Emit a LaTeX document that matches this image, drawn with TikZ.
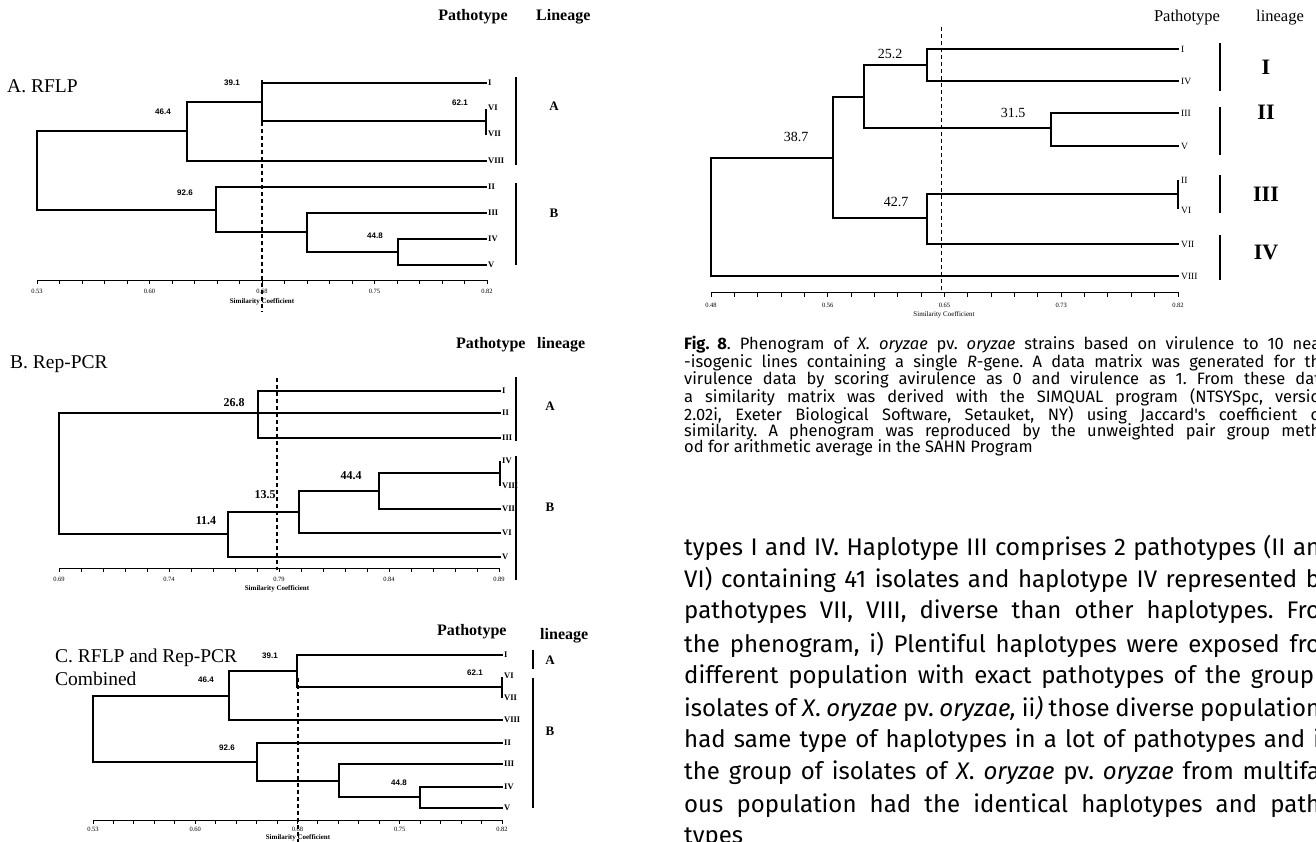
\documentclass[tikz,border=0pt]{standalone}
\usepackage{fontspec}
\setmainfont{Liberation Serif}
\newfontfamily\arialfont{Liberation Sans}
\newfontfamily\firafont{Fira Sans}
\newcommand{\fsz}[1]{\fontsize{#1}{#1}\selectfont}
\frenchspacing

\begin{document}
\begin{tikzpicture}[x=1pt, y=-1pt,
  tree/.style={line width=1.4pt, line cap=rect},
  cutline/.style={line width=1.2pt, dash pattern=on 4pt off 3pt},
  axisl/.style={line width=1pt},
  lbar/.style={line width=1.6pt},
  paneltitle/.style={anchor=west, inner sep=0pt, font={\fsz{19.5}}},
  headb/.style={inner sep=0pt, font={\bfseries\fsz{16}}},
  headr/.style={inner sep=0pt, font={\fsz{16.5}}},
  leafb/.style={anchor=west, inner sep=0pt, font={\bfseries\fsz{8.5}}},
  leafr/.style={anchor=west, inner sep=0pt, font={\fsz{9.5}}},
  valA/.style={inner sep=0pt, font={\arialfont\bfseries\fsz{8}}},
  valB/.style={inner sep=0pt, font={\bfseries\fsz{12}}},
  valR/.style={inner sep=0pt, font={\fsz{14}}},
  ticklab/.style={inner sep=0pt, font={\fsz{6.5}}},
  sclab/.style={inner sep=0pt, font={\bfseries\fsz{7}}},
  linb/.style={inner sep=0pt, font={\bfseries\fsz{13}}},
  linR/.style={inner sep=0pt, font={\bfseries\fsz{22}}},
  capline/.style={anchor=west, inner sep=0pt, font={\firafont\fsz{16.5}}},
  bodyline/.style={anchor=west, inner sep=0pt, font={\firafont\fsz{24}}}]

  \clip (0,0) rectangle (1316,842);
  \fill[white] (0,0) rectangle (1316,842);

  % A. RFLP
  \node[paneltitle] (tA) at (7,86) {A. RFLP};
  \node[headb] (hpA) at (473,17) {Pathotype};
  \node[headb, anchor=west] (hlA) at (536,17) {Lineage};
  \draw[tree] (486,83) -- (262,83) -- (262,121) -- (486,121);
  \draw[tree] (486,110) -- (486,134);
  \draw[tree] (262,102) -- (187,102) -- (187,161) -- (486,161);
  \draw[tree] (187,131) -- (37,131) -- (37,210) -- (216,210);
  \draw[tree] (486,187) -- (216,187) -- (216,232) -- (307,232);
  \draw[tree] (486,213) -- (307,213) -- (307,252) -- (398,252);
  \draw[tree] (486,239) -- (398,239) -- (398,265) -- (486,265);
  \foreach \t/\y [count=\k] in {I/83, VI/108, VII/134, VIII/161, II/187, III/213, IV/239, V/265}
    \node[leafb] (lA\k) at (488,\y) {\t};
  \node[valA] (vA1) at (232,83) {39.1};
  \node[valA] (vA2) at (163,112) {46.4};
  \node[valA] (vA3) at (460,103) {62.1};
  \node[valA] (vA4) at (185,193) {92.6};
  \node[valA] (vA5) at (375,236) {44.8};
  % axis
  \draw[axisl] (37,280) -- (487,280);
  \foreach \i in {0,...,20} \draw[axisl] (37+22.5*\i,280) -- ++(0,4);
  \foreach \v [count=\k from 0] in {0.53,0.60,0.68,0.75,0.82}
    \node[ticklab] (xA\k) at (37+112.5*\k,291) {\v};
  \node[sclab] (sA) at (262,302) {Similarity Coefficient};
  \draw[cutline] (262,80) -- (262,312);
  % lineage
  \draw[lbar] (516,77) -- (516,165);
  \draw[lbar] (516,183) -- (516,265);
  \node[linb] (gA1) at (554,106) {A};
  \node[linb] (gA2) at (554,213) {B};

  % B. Rep-PCR
  \node[paneltitle] (tB) at (10,364) {B. Rep-PCR};
  \node[headb, anchor=west] (hpB) at (456,345) {Pathotype};
  \node[headb, anchor=west] (hlB) at (537,345) {lineage};
  \draw[tree] (500,391) -- (258,391) -- (258,438) -- (500,438);
  \draw[tree] (59,413) -- (500,413);
  \draw[tree] (59,413) -- (59,534) -- (228,534);
  \draw[tree] (299,512) -- (228,512) -- (228,557) -- (500,557);
  \draw[tree] (379,491) -- (299,491) -- (299,533) -- (500,533);
  \draw[tree] (500,473) -- (379,473) -- (379,509) -- (500,509);
  \draw[tree] (500,462) -- (500,485);
  \foreach \t/\y [count=\k] in {I/391, II/413, III/438, IV/461, VIII/486, VII/509, VI/533, V/557}
    \node[leafb] (lB\k) at (502,\y) {\t};
  \node[valB] (vB1) at (234,403) {26.8};
  \node[valB] (vB2) at (351,476) {44.4};
  \node[valB] (vB3) at (265,495) {13.5};
  \node[valB] (vB4) at (206,521) {11.4};
  % axis
  \draw[axisl] (59,568) -- (499,568);
  \foreach \i in {0,...,20} \draw[axisl] (59+22*\i,568) -- ++(0,4);
  \foreach \v [count=\k from 0] in {0.69,0.74,0.79,0.84,0.89}
    \node[ticklab] (xB\k) at (59+110*\k,579) {\v};
  \node[sclab] (sB) at (277,589) {Similarity Coefficient};
  \draw[cutline] (277,378) -- (277,570);
  % lineage
  \draw[lbar] (516,377) -- (516,441);
  \draw[lbar] (516,456) -- (516,580);
  \node[linb] (gB1) at (550,406) {A};
  \node[linb] (gB2) at (550,507) {B};

  % C. RFLP and Rep-PCR
  \node[paneltitle] (tC1) at (55,658) {C. RFLP and Rep-PCR};
  \node[paneltitle] (tC2) at (55,679) {Combined};
  \node[headb, anchor=west] (hpC) at (437,632) {Pathotype};
  \node[headb, anchor=west] (hlC) at (540,636) {lineage};
  \draw[tree] (502,655) -- (297,655) -- (297,687) -- (502,687);
  \draw[tree] (502,678) -- (502,697);
  \draw[tree] (297,671) -- (229,671) -- (229,720) -- (502,720);
  \draw[tree] (229,696) -- (93,696) -- (93,762) -- (257,762);
  \draw[tree] (502,743) -- (257,743) -- (257,781) -- (339,781);
  \draw[tree] (502,764) -- (339,764) -- (339,797) -- (420,797);
  \draw[tree] (502,787) -- (420,787) -- (420,808) -- (502,808);
  \foreach \t/\y [count=\k] in {I/655, VI/676, VII/698, VIII/720, II/743, III/764, IV/787, V/808}
    \node[leafb] (lC\k) at (504,\y) {\t};
  \node[valA] (vC1) at (270,656) {39.1};
  \node[valA] (vC2) at (206,680) {46.4};
  \node[valA] (vC3) at (475,673) {62.1};
  \node[valA] (vC4) at (227,748) {92.6};
  \node[valA] (vC5) at (399,783) {44.8};
  % axis
  \draw[axisl] (93,820) -- (502,820);
  \foreach \i in {0,...,20} \draw[axisl] (93+20.45*\i,820) -- ++(0,4);
  \foreach \v [count=\k from 0] in {0.53,0.60,0.68,0.75,0.82}
    \node[ticklab] (xC\k) at (93+102.25*\k,829) {\v};
  \node[sclab] (sC) at (298,838) {Similarity Coefficient};
  \draw[cutline] (298,678) -- (298,842);
  % lineage
  \draw[lbar] (533,650) -- (533,669);
  \draw[lbar] (533,678) -- (533,808);
  \node[linb] (gC1) at (550,660) {A};
  \node[linb] (gC2) at (550,731) {B};

  % Phenogram (right)
  \node[headr] (hpR) at (1187,18) {Pathotype};
  \node[headr] (hlR) at (1280,18) {lineage};
  \draw[tree] (1178,49) -- (927,49) -- (927,81) -- (1178,81);
  \draw[tree] (927,65) -- (864,65) -- (864,128) -- (1051,128);
  \draw[tree] (1178,113) -- (1051,113) -- (1051,146) -- (1178,146);
  \draw[tree] (864,97) -- (833,97) -- (833,218) -- (927,218);
  \draw[tree] (1178,194) -- (927,194) -- (927,244) -- (1178,244);
  \draw[tree] (1178,181) -- (1178,208);
  \draw[tree] (833,158) -- (711,158) -- (711,276) -- (1178,276);
  \foreach \t/\y [count=\k] in {I/49, IV/81, III/113, V/146, II/180, VI/210, VII/244, VIII/276}
    \node[leafr] (lR\k) at (1181,\y) {\t};
  \node[valR] (vR1) at (890,54) {25.2};
  \node[valR] (vR2) at (1013,113) {31.5};
  \node[valR] (vR3) at (796,137) {38.7};
  \node[valR] (vR4) at (896,202) {42.7};
  % axis
  \draw[axisl] (711,292) -- (1178,292);
  \foreach \i in {0,...,20} \draw[axisl] (711+23.35*\i,292) -- ++(0,5);
  \foreach \v [count=\k from 0] in {0.48,0.56,0.65,0.73,0.82}
    \node[ticklab] (xR\k) at (711+116.75*\k,305) {\v};
  \node[sclab, font={\fsz{7}}] (sR) at (944,315) {Similarity Coefficient};
  \draw[cutline, line width=1pt] (941,27) -- (941,290);
  % lineage
  \draw[lbar] (1220,43) -- (1220,91);
  \draw[lbar] (1220,107) -- (1220,155);
  \draw[lbar] (1220,175) -- (1220,213);
  \draw[lbar] (1220,235) -- (1220,280);
  \node[linR] (gR1) at (1266,67) {I};
  \node[linR] (gR2) at (1266,112) {II};
  \node[linR] (gR3) at (1266,194) {III};
  \node[linR] (gR4) at (1266,252) {IV};

  % caption
  \node[capline] (c1) at (684,345) {\makebox[636pt][s]{\textbf{Fig. 8}. Phenogram of \textit{X.} \textit{oryzae} pv. \textit{oryzae} strains based on virulence to 10 nea}};
  \node[capline] (c2) at (684,363) {\makebox[636pt][s]{-isogenic lines containing a single \textit{R}-gene. A data matrix was generated for th}};
  \node[capline] (c3) at (684,380) {\makebox[636pt][s]{virulence data by scoring avirulence as 0 and virulence as 1. From these dat}};
  \node[capline] (c4) at (684,397) {\makebox[636pt][s]{a similarity matrix was derived with the SIMQUAL program (NTSYSpc, versio}};
  \node[capline] (c5) at (684,415) {\makebox[636pt][s]{2.02i, Exeter Biological Software, Setauket, NY) using Jaccard's coefficient o}};
  \node[capline] (c6) at (684,432) {\makebox[636pt][s]{similarity. A phenogram was reproduced by the unweighted pair group meth}};
  \node[capline] (c7) at (684,448) {od for arithmetic average in the SAHN Program};

  % body text
  \node[bodyline] (p1) at (684,548) {\makebox[636pt][s]{types I and IV. Haplotype III comprises 2 pathotypes (II an}};
  \node[bodyline] (p2) at (684,580) {\makebox[636pt][s]{VI) containing 41 isolates and haplotype IV represented b}};
  \node[bodyline] (p3) at (684,612) {\makebox[636pt][s]{pathotypes VII, VIII, diverse than other haplotypes. Fro}};
  \node[bodyline] (p4) at (684,645) {\makebox[636pt][s]{the phenogram, i) Plentiful haplotypes were exposed fro}};
  \node[bodyline] (p5) at (684,677) {\makebox[630pt][s]{different population with exact pathotypes of the group}};
  \node[bodyline] (p6) at (684,709) {\makebox[636pt][s]{isolates of \textit{X}. \textit{oryzae} pv. \textit{oryzae,} ii\textit{)} those diverse population}};
  \node[bodyline] (p7) at (684,741) {\makebox[636pt][s]{had same type of haplotypes in a lot of pathotypes and i}};
  \node[bodyline] (p8) at (684,773) {\makebox[636pt][s]{the group of isolates of \textit{X}. \textit{oryzae} pv. \textit{oryzae} from multifa}};
  \node[bodyline] (p9) at (684,806) {\makebox[636pt][s]{ous population had the identical haplotypes and path}};
  \node[bodyline] (p10) at (684,838) {types};
\end{tikzpicture}
\end{document}
